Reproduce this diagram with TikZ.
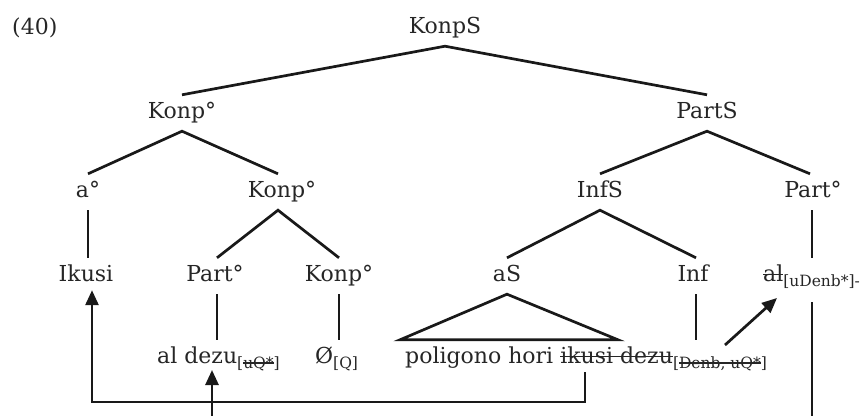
\documentclass[tikz,border=0pt]{standalone}
\usepackage{fontspec}
\setmainfont{DejaVu Serif}
\usetikzlibrary{arrows.meta}
\newcommand\mystrike[1]{\setbox0\hbox{#1}\rlap{\rule[0.55ex]{\wd0}{1.2pt}}\box0}
\newcommand\subsc[1]{\raisebox{-5pt}{\fontsize{15.5}{16}\selectfont #1}}
\tikzset{
  lbl/.style={anchor=base, inner xsep=0pt, inner ysep=8pt, text height=15pt, text depth=5pt,
    font=\fontsize{22}{26}\selectfont, text=black!85},
  lblw/.style={lbl, anchor=base west},
  branch/.style={line width=2.7pt, black!90},
  arr/.style={line width=2.7pt, black!90, -{Triangle[length=15pt,width=13pt]}}
}
\begin{document}
\begin{tikzpicture}[x=1pt,y=-1pt]
\useasboundingbox (0,0) rectangle (864,415);
\clip (0,0) rectangle (864,415);
% nodes
\node[lblw] (ex) at (12,34) {(40)};
\node[lbl] (konps) at (445,33) {KonpS};
\node[lbl] (konpa) at (182,118) {Konp°};
\node[lbl] (parts) at (707,118) {PartS};
\node[lbl] (adeg) at (88,197) {a°};
\node[lbl] (konpb) at (282,197) {Konp°};
\node[lbl] (infs) at (600,197) {InfS};
\node[lbl] (parta) at (813,197) {Part°};
\node[lbl] (ikusi) at (86,281) {Ikusi};
\node[lbl] (partb) at (215,281) {Part°};
\node[lbl] (konpc) at (339,281) {Konp°};
\node[lbl] (as) at (507,281) {aS};
\node[lbl] (inf) at (693,281) {Inf};
\node[lblw] (al) at (763,281) {\mystrike{al}\subsc{[uDenb*]-}};
\node[lblw] (ald) at (157,363) {al dezu\subsc{[\mystrike{uQ*}]}};
\node[lblw] (emp) at (315,363) {Ø\subsc{[Q]}};
\node[lblw] (pol) at (405,363) {poligono hori \mystrike{ikusi dezu}\subsc{[\mystrike{Denb, uQ*}]}};
% tree branches
\draw[branch] (konpa.north) -- (konps.south) -- (parts.north);
\draw[branch] (adeg.north) -- (konpa.south) -- ([xshift=-4pt]konpb.north);
\draw[branch] (infs.north) -- (parts.south) -- ([xshift=-3pt]parta.north);
\draw[branch] (adeg.south) -- (adeg.south |- ikusi.north);
\draw[branch] ([xshift=2pt]partb.north) -- ([xshift=-4pt]konpb.south) -- (konpc.north);
\draw[branch] (as.north) -- (infs.south) -- ([xshift=3pt]inf.north);
\draw[branch] ([xshift=-1pt]parta.south) -- ([xshift=-1pt]parta.south |- al.north);
\draw[branch] ([xshift=2pt]partb.south) -- ([xshift=2pt]partb.south |- ald.north);
\draw[branch] (konpc.south) -- (konpc.south |- emp.north);
\draw[branch] ([xshift=3pt]inf.south) -- ([xshift=3pt]inf.south |- pol.north);
% triangle
\coordinate (triL) at ([xshift=-5pt]pol.north west);
\coordinate (triR) at ([xshift=213pt]pol.north west);
\draw[branch, line join=miter] (as.south) -- (triL) -- (triR) -- cycle;
% continuation of Part line
\coordinate (vtop) at (812,302);
\coordinate (vbot) at (812,425);
\draw[branch] (vtop) -- (vbot);
% movement arrows
\coordinate (mvA) at (585,372);
\coordinate (mvB) at (585,402);
\draw[arr, line join=miter] (mvA) -- (mvB) -| ([xshift=6pt,yshift=4pt]ikusi.south);
\coordinate (upA) at (212,425);
\coordinate (upB) at (212,370);
\draw[arr] (upA) -- (upB);
\coordinate (agA) at (725,345);
\coordinate (agB) at (777,298);
\draw[arr] (agA) -- (agB);
\end{tikzpicture}
\end{document}
